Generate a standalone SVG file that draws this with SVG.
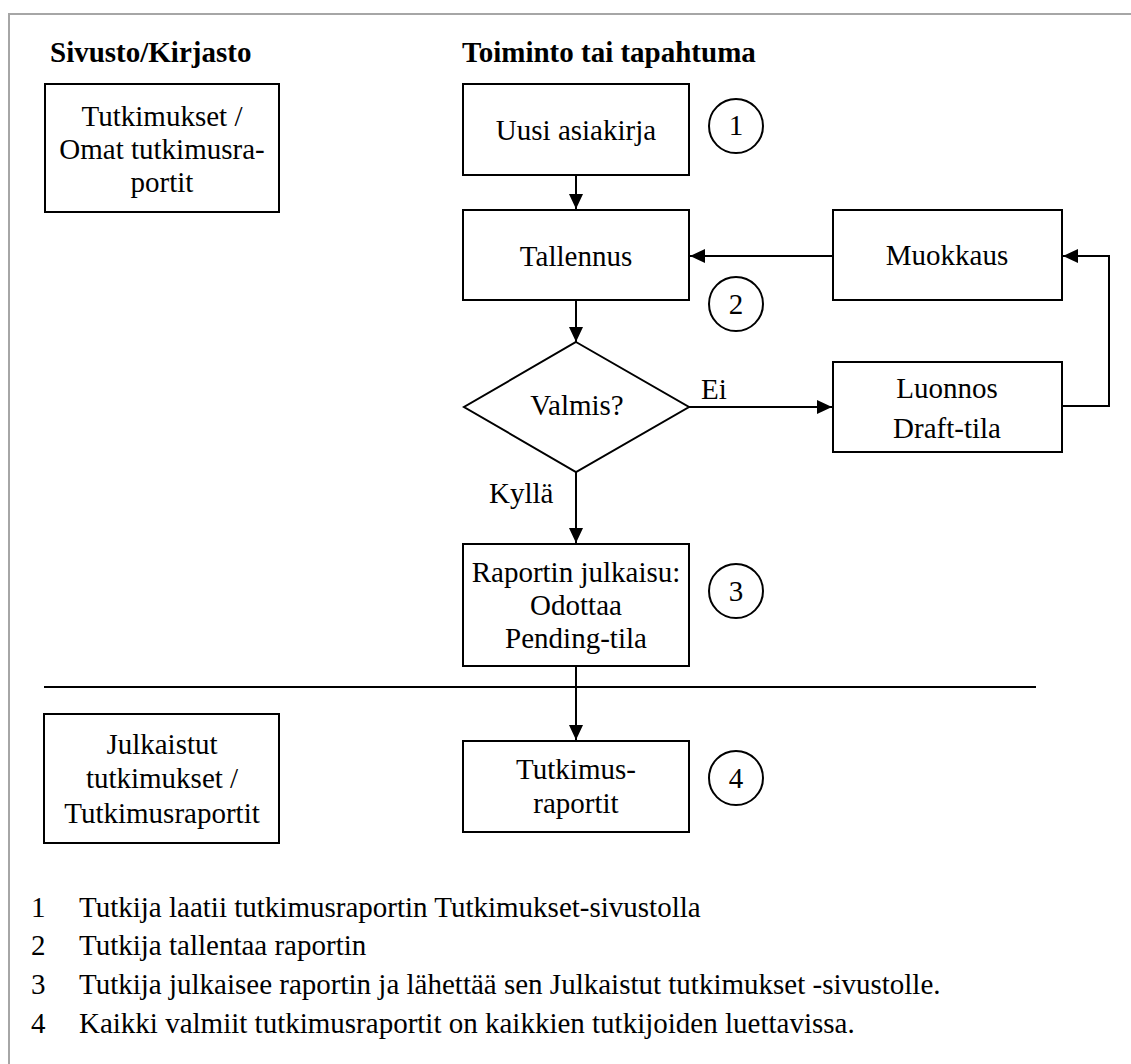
<svg xmlns="http://www.w3.org/2000/svg" width="1131" height="1064" viewBox="0 0 1131 1064">
<style>
text{font-family:"Liberation Serif","Times New Roman",serif;font-size:29px;fill:#000}
.h{font-weight:bold}
.c{text-anchor:middle}
.box{fill:#fff;stroke:#000;stroke-width:2}
.ln{fill:none;stroke:#000;stroke-width:2}
</style>
<defs>
<marker id="arr" markerUnits="userSpaceOnUse" markerWidth="15" markerHeight="14" refX="15" refY="7" orient="auto">
<path d="M0,0 L15,7 L0,14 Z" fill="#000"/>
</marker>
</defs>
<rect width="1131" height="1064" fill="#fff"/>
<path d="M9,1064 V14 H1131" fill="none" stroke="#a6a6a6" stroke-width="2"/>
<g id="headers">
<text class="h" x="50" y="62">Sivusto/Kirjasto</text>
<text class="h" x="462" y="62">Toiminto tai tapahtuma</text>
</g>
<g id="connectors">
<line class="ln" x1="576" y1="175" x2="576" y2="209" marker-end="url(#arr)"/>
<line class="ln" x1="833" y1="256" x2="690" y2="256" marker-end="url(#arr)"/>
<line class="ln" x1="576" y1="300" x2="576" y2="342" marker-end="url(#arr)"/>
<line class="ln" x1="689" y1="407" x2="832" y2="407" marker-end="url(#arr)"/>
<polyline class="ln" points="1062,406 1109,406 1109,256 1063,256" marker-end="url(#arr)"/>
<line class="ln" x1="576" y1="472" x2="576" y2="543" marker-end="url(#arr)"/>
<line class="ln" x1="576" y1="666" x2="576" y2="740" marker-end="url(#arr)"/>
<text x="701" y="399">Ei</text>
<text x="489" y="503">Kyllä</text>
</g>
<line id="divider" class="ln" x1="44" y1="687" x2="1036" y2="687"/>
<g id="n-tutkimukset">
<rect class="box" x="45" y="84" width="234" height="128"/>
<text class="c" x="162" y="126">Tutkimukset /</text>
<text class="c" x="162" y="159">Omat tutkimusra-</text>
<text class="c" x="162" y="192">portit</text>
</g>
<g id="n-uusi">
<rect class="box" x="463" y="84" width="226" height="91"/>
<text class="c" x="576" y="140">Uusi asiakirja</text>
</g>
<g id="c1">
<circle class="ln" cx="736" cy="126" r="27"/>
<text class="c" x="736" y="135">1</text>
</g>
<g id="n-tallennus">
<rect class="box" x="463" y="210" width="226" height="90"/>
<text class="c" x="576" y="266">Tallennus</text>
</g>
<g id="c2">
<circle class="ln" cx="736" cy="304" r="27"/>
<text class="c" x="736" y="314">2</text>
</g>
<g id="n-muokkaus">
<rect class="box" x="833" y="210" width="229" height="90"/>
<text class="c" x="947" y="265">Muokkaus</text>
</g>
<g id="n-valmis">
<polygon class="box" points="576,342 689,407 576,472 464,407"/>
<text class="c" x="577" y="415">Valmis?</text>
</g>
<g id="n-luonnos">
<rect class="box" x="833" y="362" width="229" height="90"/>
<text class="c" x="947" y="398">Luonnos</text>
<text class="c" x="947" y="438">Draft-tila</text>
</g>
<g id="n-raportin">
<rect class="box" x="463" y="544" width="226" height="122"/>
<text class="c" x="576" y="582">Raportin julkaisu:</text>
<text class="c" x="576" y="615">Odottaa</text>
<text class="c" x="576" y="648">Pending-tila</text>
</g>
<g id="c3">
<circle class="ln" cx="736" cy="591" r="27"/>
<text class="c" x="736" y="601">3</text>
</g>
<g id="n-tutkimusraportit">
<rect class="box" x="463" y="741" width="226" height="91"/>
<text class="c" x="576" y="779">Tutkimus-</text>
<text class="c" x="576" y="813">raportit</text>
</g>
<g id="c4">
<circle class="ln" cx="736" cy="778" r="27"/>
<text class="c" x="736" y="788">4</text>
</g>
<g id="n-julkaistut">
<rect class="box" x="44" y="714" width="235" height="129"/>
<text class="c" x="162" y="754">Julkaistut</text>
<text class="c" x="162" y="788">tutkimukset /</text>
<text class="c" x="162" y="823">Tutkimusraportit</text>
</g>
<g id="legend">
<text x="31" y="917">1</text><text x="79" y="917">Tutkija laatii tutkimusraportin Tutkimukset-sivustolla</text>
<text x="31" y="955">2</text><text x="79" y="955">Tutkija tallentaa raportin</text>
<text x="31" y="994">3</text><text x="79" y="994">Tutkija julkaisee raportin ja lähettää sen Julkaistut tutkimukset -sivustolle.</text>
<text x="31" y="1033">4</text><text x="79" y="1033">Kaikki valmiit tutkimusraportit on kaikkien tutkijoiden luettavissa.</text>
</g>
</svg>
